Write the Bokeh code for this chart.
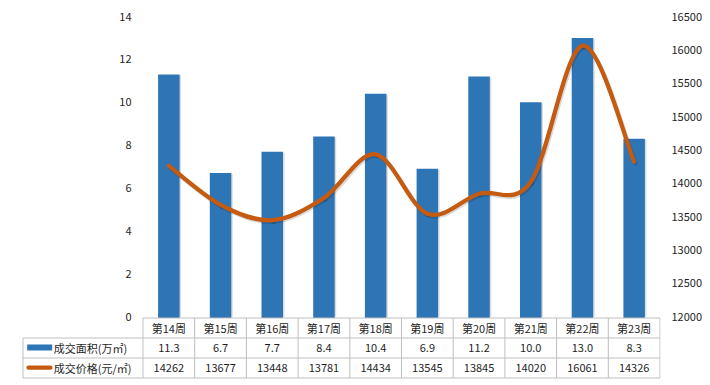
from bokeh.plotting import figure
from bokeh.models import Range1d, LinearAxis, FixedTicker
from bokeh.core.properties import value
from bokeh.embed import file_html
from bokeh.resources import INLINE

# ---------------- data ----------------
weeks = ["第14周", "第15周", "第16周", "第17周", "第18周",
         "第19周", "第20周", "第21周", "第22周", "第23周"]
area = [11.3, 6.7, 7.7, 8.4, 10.4, 6.9, 11.2, 10.0, 13.0, 8.3]
price = [14262, 13677, 13448, 13781, 14434, 13545, 13845, 14020, 16061, 14326]
area_ticks = [0, 2, 4, 6, 8, 10, 12, 14]
price_ticks = [12000, 12500, 13000, 13500, 14000, 14500, 15000, 15500, 16000, 16500]
area_name = "成交面积(万㎡)"
price_name = "成交价格(元/㎡)"

# ---------------- style / layout (page pixels) ----------------
BAR_COLOR = "#2E75B6"
LINE_COLOR = "#C55A11"
BORDER_COLOR = "#BFBFBF"
TEXT_COLOR = "#1E1E1E"
FONT = "Noto Sans CJK SC"
FONT_SIZE = "11px"

W, H = 710, 385
FL, FR, FT, FB = 20, 660, 8, 380          # plot frame edges
COL0, COLW = 142.5, 51.7                  # first table column border, column width
ZERO_PX, PPU = 316.3, 21.45               # pixel row of value 0, px per area unit
ROWS_PX = [317.5, 337.5, 357.5, 377.5]    # table horizontal borders
LABEL_LEFT = 22.5                         # left border of the table's label column
LEFT_LABEL_RIGHT = 131                    # right edge of left tick labels
RIGHT_STANDOFF = 11


def xd(px):
    return (px - COL0) / COLW - 0.5


def yd(py):
    return (ZERO_PX - py) / PPU


n = len(weeks)
idx = list(range(n))
p_lo, p_hi = price_ticks[0], price_ticks[-1]
kp = (p_hi - p_lo) / area_ticks[-1]


def to_price(v):
    return p_lo + v * kp


p = figure(width=W, height=H,
           x_range=Range1d(xd(FL), xd(FR)), y_range=Range1d(yd(FB), yd(FT)),
           x_axis_type=None, output_backend="svg", toolbar_location=None,
           min_border_left=FL, min_border_right=W - FR,
           min_border_top=FT, min_border_bottom=H - FB)
p.extra_y_ranges = {"price": Range1d(to_price(yd(FB)), to_price(yd(FT)))}
p.outline_line_color = None
p.grid.grid_line_color = None
p.background_fill_color = "white"
p.border_fill_color = "white"


def style_axis(ax, standoff):
    ax.axis_line_color = None
    ax.major_tick_line_color = None
    ax.minor_tick_line_color = None
    ax.major_tick_out = 0
    ax.major_tick_in = 0
    ax.minor_tick_out = 0
    ax.minor_tick_in = 0
    ax.major_label_standoff = standoff
    ax.major_label_text_font = FONT
    ax.major_label_text_font_size = FONT_SIZE
    ax.major_label_text_color = TEXT_COLOR


left_ax = p.yaxis[0]
left_ax.ticker = FixedTicker(ticks=area_ticks)
style_axis(left_ax, 0)
left_ax.fixed_location = xd(LEFT_LABEL_RIGHT)

right_ax = LinearAxis(y_range_name="price", ticker=FixedTicker(ticks=price_ticks))
style_axis(right_ax, RIGHT_STANDOFF)
p.add_layout(right_ax, "right")

# ---------------- bars ----------------
bar_w = 21.5 / COLW
p.vbar(x=[i + 1.5 / COLW for i in idx], bottom=0, top=[a - 1.0 / PPU for a in area],
       width=bar_w, fill_color="black", fill_alpha=0.14, line_color=None)
p.vbar(x=idx, bottom=yd(ROWS_PX[0]), top=area, width=bar_w,
       fill_color=BAR_COLOR, line_color=None)

# ---------------- smoothed price line ----------------
bx0, by0, bx1, by1, cx0, cy0, cx1, cy1 = ([] for _ in range(8))
for i in range(n - 1):
    a0 = max(i - 1, 0)
    a3 = min(i + 2, n - 1)
    bx0.append(idx[i]); by0.append(price[i])
    bx1.append(idx[i + 1]); by1.append(price[i + 1])
    cx0.append(idx[i] + (idx[i + 1] - idx[a0]) / 6.0)
    cy0.append(price[i] + (price[i + 1] - price[a0]) / 6.0)
    cx1.append(idx[i + 1] - (idx[a3] - idx[i]) / 6.0)
    cy1.append(price[i + 1] - (price[a3] - price[i]) / 6.0)

sh = 1.2 / COLW
shy = 1.5 * kp / PPU
p.bezier(x0=[v + sh for v in bx0], y0=[v - shy for v in by0],
         x1=[v + sh for v in bx1], y1=[v - shy for v in by1],
         cx0=[v + sh for v in cx0], cy0=[v - shy for v in cy0],
         cx1=[v + sh for v in cx1], cy1=[v - shy for v in cy1],
         y_range_name="price", line_color="black", line_alpha=0.15, line_width=4.5,
         line_cap="round")
p.bezier(x0=bx0, y0=by0, x1=bx1, y1=by1, cx0=cx0, cy0=cy0, cx1=cx1, cy1=cy1,
         y_range_name="price", line_color=LINE_COLOR, line_width=4.25, line_cap="round")

# ---------------- data table ----------------
col_b = [xd(COL0 + k * COLW) for k in range(n + 1)]
x_lab = xd(LABEL_LEFT)
# vertical borders
p.segment(x0=col_b, y0=[yd(ROWS_PX[0])] * (n + 1), x1=col_b, y1=[yd(ROWS_PX[-1])] * (n + 1),
          line_color=BORDER_COLOR, line_width=1)
p.segment(x0=[x_lab], y0=[yd(ROWS_PX[1])], x1=[x_lab], y1=[yd(ROWS_PX[-1])],
          line_color=BORDER_COLOR, line_width=1)
# horizontal borders
p.segment(x0=[col_b[0]] + [x_lab] * 3, y0=[yd(r) for r in ROWS_PX],
          x1=[col_b[-1]] * 4, y1=[yd(r) for r in ROWS_PX],
          line_color=BORDER_COLOR, line_width=1)

row_c = [yd((ROWS_PX[j] + ROWS_PX[j + 1]) / 2.0) for j in range(3)]
txt = dict(text_align="center", text_baseline="middle", text_font=value(FONT),
           text_font_size=value(FONT_SIZE), text_color=TEXT_COLOR)
p.text(x=idx, y=[row_c[0]] * n, text=weeks, **txt)
p.text(x=idx, y=[row_c[1]] * n, text=[f"{a:.1f}" for a in area], **txt)
p.text(x=idx, y=[row_c[2]] * n, text=[str(v) for v in price], **txt)

# legend keys in the label column
p.quad(left=[xd(26.7)], right=[xd(51.7)], top=[yd(344.0)], bottom=[yd(350.0)],
       fill_color=BAR_COLOR, line_color=None)
p.segment(x0=[xd(28.0)], y0=[yd(367.2)], x1=[xd(50.0)], y1=[yd(367.2)],
          line_color=LINE_COLOR, line_width=4.25, line_cap="round")
p.text(x=[xd(53.3)] * 2, y=[row_c[1], row_c[2]], text=[area_name, price_name],
       text_align="left", text_baseline="middle", text_font=value(FONT),
       text_font_size=value(FONT_SIZE), text_color=TEXT_COLOR)

open("out.html", "w").write(file_html(p, INLINE))
